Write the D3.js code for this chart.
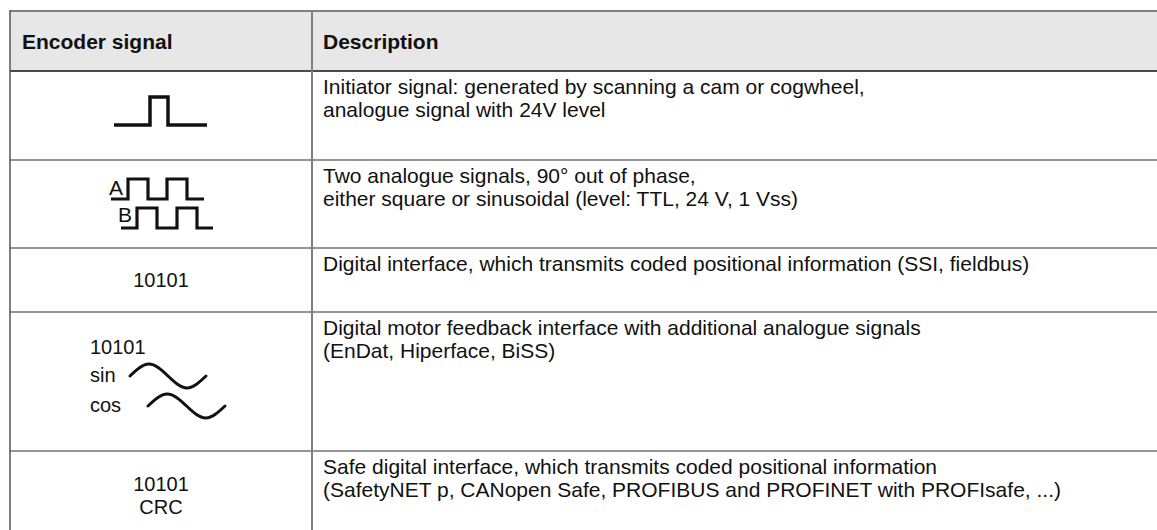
<!DOCTYPE html>
<html><head><meta charset="utf-8">
<script src="https://cdn.jsdelivr.net/npm/d3@7"></script>
<style>html,body{margin:0;padding:0;background:#fff;} svg{display:block;}</style>
</head><body><svg id="chart" width="1157" height="530"></svg>
<script>
// ---------- data ----------
const headers = ["Encoder signal", "Description"];
const signalIds = ["initiator", "quadrature", "digital", "motorFeedback", "safeDigital"];
const signalLabels = [[], ["A", "B"], ["10101"], ["10101", "sin", "cos"], ["10101", "CRC"]];
const descriptions = [
  ["Initiator signal: generated by scanning a cam or cogwheel,", "analogue signal with 24V level"],
  ["Two analogue signals, 90° out of phase,", "either square or sinusoidal (level: TTL, 24 V, 1 Vss)"],
  ["Digital interface, which transmits coded positional information (SSI, fieldbus)"],
  ["Digital motor feedback interface with additional analogue signals", "(EnDat, Hiperface, BiSS)"],
  ["Safe digital interface, which transmits coded positional information", "(SafetyNET p, CANopen Safe, PROFIBUS and PROFINET with PROFIsafe, ...)"]
];
const pulseLevels = [0, 1, 0];           // initiator pulse: low, high, low
const squareLevels = [0, 1, 0, 1, 0];    // quadrature square wave
const waveLevels = [0, 1, 0, -1, 0];     // sine / cosine glyph samples

// ---------- layout ----------
const W = 1157, H = 530;
const tLeft = 10, tTop = 11, split = 312, headerBottom = 71;
const rowHeights = [89, 88, 64, 139, 100];
const rowTops = [headerBottom, ...d3.cumsum(rowHeights).map(v => headerBottom + v)].slice(0, rowHeights.length);
const cx = (tLeft + split) / 2;
const font = "'Liberation Sans', Arial, Helvetica, sans-serif";
const fs = 21, fsIcon = 20;
const ink = "#111";

const svg = d3.select("#chart");

svg.append("rect").attr("x", tLeft).attr("y", tTop).attr("width", W - tLeft).attr("height", headerBottom - tTop).attr("fill", "#e7e7e7");

svg.selectAll("text.hdr").data(headers).join("text")
  .attr("class", "hdr")
  .attr("x", (d, i) => i === 0 ? 22 : 323)
  .attr("y", 48.5)
  .attr("font-family", font).attr("font-size", fs).attr("font-weight", "bold").attr("fill", ink)
  .text(d => d);

svg.selectAll("line.rowsep").data(rowTops.slice(1)).join("line")
  .attr("class", "rowsep")
  .attr("x1", tLeft).attr("x2", W).attr("y1", d => d).attr("y2", d => d)
  .attr("stroke", "#727272").attr("stroke-width", 1.5);

svg.append("line").attr("x1", tLeft).attr("x2", W).attr("y1", tTop).attr("y2", tTop).attr("stroke", "#808080").attr("stroke-width", 2);
svg.append("line").attr("x1", tLeft).attr("x2", W).attr("y1", headerBottom).attr("y2", headerBottom).attr("stroke", "#111").attr("stroke-width", 1.5);
svg.append("line").attr("x1", tLeft).attr("x2", tLeft).attr("y1", tTop - 1).attr("y2", H).attr("stroke", "#555").attr("stroke-width", 1.5);
svg.append("line").attr("x1", split).attr("x2", split).attr("y1", tTop - 1).attr("y2", H).attr("stroke", "#808080").attr("stroke-width", 2);

const rows = svg.selectAll("g.row").data(signalIds).join("g")
  .attr("class", "row").attr("transform", (d, i) => `translate(0,${rowTops[i]})`);

rows.each(function (id, i) {
  const g = d3.select(this);
  g.selectAll("text.desc").data(descriptions[i]).join("text")
    .attr("class", "desc")
    .attr("x", 323).attr("y", (d, j) => 23 + j * 23)
    .attr("font-family", font).attr("font-size", fs).attr("fill", ink)
    .text(d => d);
});

function stepPath(g, levels, xs, yLow, yHigh, sw) {
  const y = d3.scaleLinear().domain([0, 1]).range([yLow, yHigh]);
  const pts = levels.map((v, k) => [xs[k], v]);
  pts.push([xs[xs.length - 1], levels[levels.length - 1]]);
  const line = d3.line().x(p => p[0]).y(p => y(p[1])).curve(d3.curveStepAfter);
  g.append("path").attr("d", line(pts)).attr("fill", "none").attr("stroke", ink)
    .attr("stroke-width", sw).attr("stroke-linejoin", "miter").attr("stroke-linecap", "butt");
}
function wavePath(g, levels, x0, x1, yMid, amp, sw) {
  const x = d3.scaleLinear().domain([0, levels.length - 1]).range([x0, x1]);
  const y = d3.scaleLinear().domain([-1, 1]).range([yMid + amp, yMid - amp]);
  const line = d3.line().x((v, k) => x(k)).y(v => y(v)).curve(d3.curveNatural);
  g.append("path").attr("d", line(levels)).attr("fill", "none").attr("stroke", ink)
    .attr("stroke-width", sw).attr("stroke-linecap", "round");
}
function label(g, t, x, y, anchor, size) {
  g.append("text").attr("x", x).attr("y", y).attr("text-anchor", anchor || "start")
    .attr("font-family", font).attr("font-size", size || fsIcon).attr("fill", ink).text(t);
}

const gRows = rows.nodes().map(n => d3.select(n));
stepPath(gRows[0], pulseLevels, [114, 150, 168, 207], 54, 26, 3.5);
label(gRows[1], signalLabels[1][0], 123, 35, "end", 21);
stepPath(gRows[1], squareLevels, [111, 128, 148, 167, 187, 204], 39, 19, 3.2);
label(gRows[1], signalLabels[1][1], 118, 62, "start", 21);
stepPath(gRows[1], squareLevels, [121, 137, 157, 177, 197, 213], 68, 48, 3.2);
label(gRows[2], signalLabels[2][0], cx, 39, "middle");
label(gRows[3], signalLabels[3][0], 90, 42);
label(gRows[3], signalLabels[3][1], 90, 70);
label(gRows[3], signalLabels[3][2], 90, 100);
wavePath(gRows[3], waveLevels, 130, 206, 64, 12, 3);
wavePath(gRows[3], waveLevels, 148, 225, 94, 12, 3);
label(gRows[4], signalLabels[4][0], cx, 40, "middle");
label(gRows[4], signalLabels[4][1], cx, 63, "middle");
</script></body></html>
